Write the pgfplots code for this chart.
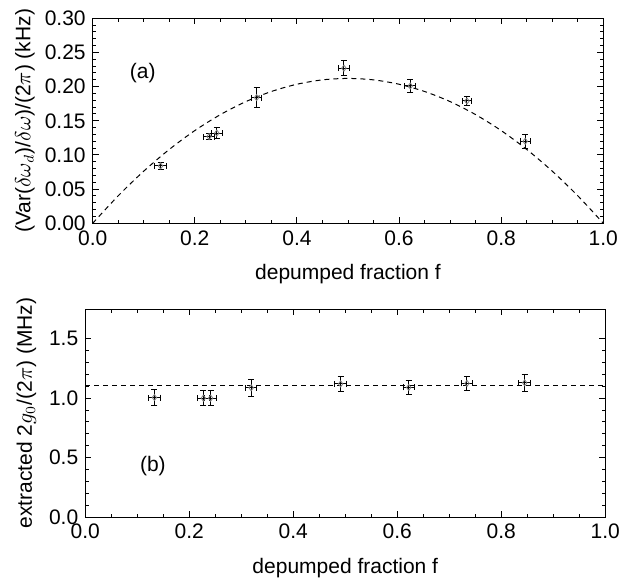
\documentclass[border=0pt]{standalone}
\usepackage{fontspec}
\setmainfont{Liberation Sans}
\usepackage{pgfplots}
\pgfplotsset{compat=1.18}

\pgfplotsset{
  panel/.style={
    scale only axis,
    xmin=0, xmax=1,
    xtick={0,0.2,...,1.0},
    minor x tick num=3,
    minor y tick num=4,
    tick align=inside,
    major tick length=3bp,
    minor tick length=1.75bp,
    axis line style={line width=0.5bp},
    every tick/.style={line width=0.5bp, black},
    xticklabel style={/pgf/number format/.cd, fixed, fixed zerofill, precision=1},
    /pgf/number format/assume math mode=true,
    tick label style={font=\fontsize{10.5bp}{12.6bp}\selectfont},
    label style={font=\fontsize{10.5bp}{12.6bp}\selectfont},
    xlabel style={at={(axis description cs:0.5,0)}, anchor=center, yshift=-25.5bp},
    clip=false,
  },
  pts/.style={
    only marks,
    mark=diamond,
    mark size=1.5bp,
    mark options={draw=gray, line width=0.4bp, fill=none},
    error bars/.cd,
      x dir=both, x explicit,
      y dir=both, y explicit,
      error bar style={line width=0.5bp, black},
      error mark options={rotate=90, mark size=1.5bp, line width=0.5bp, black},
  },
  fit/.style={black, line width=0.5bp, dash pattern=on 2.5bp off 2bp},
}

\pgfplotstableread{
x      y      ex     ey
0.133  0.084  0.011  0.005
0.228  0.127  0.011  0.005
0.243  0.132  0.011  0.008
0.321  0.184  0.010  0.014
0.492  0.227  0.011  0.011
0.622  0.201  0.011  0.009
0.733  0.179  0.009  0.006
0.847  0.120  0.010  0.010
}\vardata

\pgfplotstableread{
x      y      ex     ey
0.133  1.005  0.011  0.067
0.227  1.000  0.011  0.065
0.241  1.000  0.011  0.065
0.319  1.087  0.011  0.070
0.491  1.120  0.012  0.063
0.622  1.090  0.011  0.060
0.734  1.124  0.011  0.061
0.845  1.129  0.012  0.072
}\gdata

\begin{document}
\begin{tikzpicture}
\path[use as bounding box] (-42.65bp,-31.5bp) rectangle (273.85bp,258.5bp);

% (a) variance vs depumped fraction
\begin{axis}[panel,
  at={(3.7bp,146.85bp)},
  width=255.3bp, height=102.5bp,
  ymin=0, ymax=0.30,
  ytick={0,0.05,...,0.30},
  yticklabel style={/pgf/number format/.cd, fixed, fixed zerofill, precision=2},
  xlabel={depumped fraction f},
  ylabel={(Var($\delta\omega_d$)/$\delta\omega$)/(2$\pi$) (kHz)},
  ylabel style={at={(axis description cs:-0.1326,0.5)}, anchor=center},
]
\addplot[fit, smooth] coordinates {
  (0,0) (0.05,0.0403) (0.10,0.0763) (0.15,0.1081) (0.20,0.1357)
  (0.25,0.1590) (0.30,0.1781) (0.35,0.1929) (0.40,0.2035) (0.45,0.2099)
  (0.50,0.2120) (0.55,0.2099) (0.60,0.2035) (0.65,0.1929) (0.70,0.1781)
  (0.75,0.1590) (0.80,0.1357) (0.85,0.1081) (0.90,0.0763) (0.95,0.0403)
  (1.00,0)
};
\addplot[pts] table[x=x, y=y, x error=ex, y error=ey] {\vardata};
\node[font=\fontsize{10.5bp}{12.6bp}\selectfont] at (axis cs:0.098,0.22) {(a)};
\end{axis}

% (b) extracted coupling
\begin{axis}[panel,
  at={(0bp,0bp)},
  width=260bp, height=104bp,
  ymin=0, ymax=1.75,
  ytick={0,0.5,1.0,1.5},
  yticklabel style={/pgf/number format/.cd, fixed, fixed zerofill, precision=1},
  xlabel={depumped fraction f},
  ylabel={extracted 2$g_0$/(2$\pi$) (MHz)},
  ylabel style={at={(axis description cs:-0.113,0.5)}, anchor=center},
]
\addplot[fit] coordinates {(0,1.104) (1,1.104)};
\addplot[pts] table[x=x, y=y, x error=ex, y error=ey] {\gdata};
\node[font=\fontsize{10.5bp}{12.6bp}\selectfont] at (axis cs:0.13,0.427) {(b)};
\end{axis}
\end{tikzpicture}
\end{document}
